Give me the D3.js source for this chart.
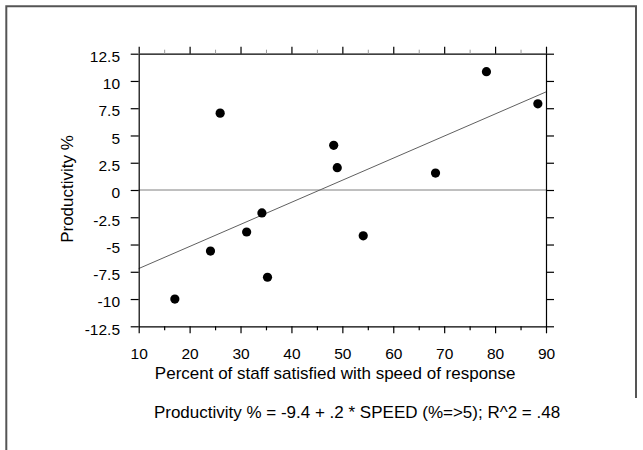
<!DOCTYPE html>
<html>
<head>
<meta charset="utf-8">
<script src="https://cdn.jsdelivr.net/npm/d3@7"></script>
<style>
  html, body { margin: 0; padding: 0; background: #fff; }
  svg { display: block; font-family: "Liberation Sans", Arial, sans-serif; }
</style>
</head>
<body>
<svg id="chart" width="643" height="450"></svg>
<script>
// ---- data ----
const speed = [17.1, 24.1, 26.0, 31.2, 34.2, 35.3, 48.3, 49.0, 54.1, 68.3, 78.3, 88.4];
const productivity = [-10.0, -5.6, 7.05, -3.85, -2.1, -8.0, 4.1, 2.05, -4.2, 1.55, 10.85, 7.9];
const xTicks = [10, 20, 30, 40, 50, 60, 70, 80, 90];
const xTickLabels = ["10", "20", "30", "40", "50", "60", "70", "80", "90"];
const xMinorTicks = [15, 25, 35, 45, 55, 65, 75, 85];
const yTicks = [12.5, 10, 7.5, 5, 2.5, 0, -2.5, -5, -7.5, -10, -12.5];
const yTickLabels = ["12.5", "10", "7.5", "5", "2.5", "0", "-2.5", "-5", "-7.5", "-10", "-12.5"];
const fitIntercept = [-9.23];
const fitSlope = [0.2025];
const xTitle = "Percent of staff satisfied with speed of response";
const yTitle = "Productivity %";
const equation = "Productivity % = -9.4 + .2 * SPEED (%=>5); R^2 = .48";

// ---- layout ----
const svg = d3.select("#chart");
const L = 138.7, R = 546, T = 53.7, B = 326.3;
const x = d3.scaleLinear().domain([10, 90]).range([L, R]);
const y = d3.scaleLinear().domain([-12.5, 12.5]).range([B, T]);

// outer frame (partial)
svg.append("path")
  .attr("d", `M6.3,450 V6.3 H636 V398`)
  .attr("fill", "none").attr("stroke", "#555").attr("stroke-width", 2);

// zero line
svg.append("line")
  .attr("x1", x(10)).attr("x2", x(90))
  .attr("y1", y(0)).attr("y2", y(0))
  .attr("stroke", "#808080").attr("stroke-width", 1);

// regression line
const fx = [10, 90];
svg.append("line")
  .attr("x1", x(fx[0])).attr("y1", y(fitIntercept[0] + fitSlope[0] * fx[0]))
  .attr("x2", x(fx[1])).attr("y2", y(fitIntercept[0] + fitSlope[0] * fx[1]))
  .attr("stroke", "#606060").attr("stroke-width", 1);

// axes
function styleAxis(g) {
  g.selectAll(".domain").attr("stroke", "#000").attr("stroke-width", 1.2);
  g.selectAll(".tick line").attr("stroke", "#000").attr("stroke-width", 1.2);
  g.selectAll("text").attr("fill", "#000").style("font-family", '"Liberation Sans", Arial, sans-serif');
}

const gLeft = svg.append("g").attr("transform", `translate(${L},0)`)
  .call(d3.axisLeft(y).tickValues(yTicks).tickSize(8).tickSizeOuter(0).tickPadding(10.7)
    .tickFormat((d, i) => yTickLabels[i]));
styleAxis(gLeft);
gLeft.selectAll("text").attr("font-size", 15.5).attr("dy", "0.5em");

const gRight = svg.append("g").attr("transform", `translate(${R},0)`)
  .call(d3.axisRight(y).tickValues(yTicks).tickSize(8).tickSizeOuter(0).tickFormat(""));
styleAxis(gRight);

const gBottom = svg.append("g").attr("transform", `translate(0,${B})`)
  .call(d3.axisBottom(x).tickValues(xTicks).tickSize(7).tickSizeOuter(0)
    .tickFormat((d, i) => xTickLabels[i]));
styleAxis(gBottom);
gBottom.selectAll("text").attr("font-size", 15.5).attr("y", 21.2).attr("dy", "0.71em");

const gBottomMinor = svg.append("g").attr("transform", `translate(0,${B})`)
  .call(d3.axisBottom(x).tickValues(xMinorTicks).tickSize(4).tickSizeOuter(0).tickFormat(""));
gBottomMinor.select(".domain").remove();
gBottomMinor.selectAll(".tick line").attr("stroke", "#000").attr("stroke-width", 1.2);

const gTop = svg.append("g").attr("transform", `translate(0,${T})`)
  .call(d3.axisTop(x).tickValues(xTicks).tickSize(7).tickSizeOuter(0).tickFormat(""));
styleAxis(gTop);

const gTopMinor = svg.append("g").attr("transform", `translate(0,${T})`)
  .call(d3.axisTop(x).tickValues(xMinorTicks).tickSize(4).tickSizeOuter(0).tickFormat(""));
gTopMinor.select(".domain").remove();
gTopMinor.selectAll(".tick line").attr("stroke", "#999").attr("stroke-width", 1);

// points
svg.append("g").selectAll("circle")
  .data(speed.map((s, i) => [s, productivity[i]]))
  .join("circle")
  .attr("cx", d => x(d[0])).attr("cy", d => y(d[1]))
  .attr("r", 4.6).attr("fill", "#000");

// titles
svg.append("text")
  .attr("x", 335.2).attr("y", 379)
  .attr("text-anchor", "middle").attr("font-size", 17).attr("fill", "#000")
  .text(xTitle);

svg.append("text")
  .attr("transform", `translate(73,189) rotate(-90)`)
  .attr("text-anchor", "middle").attr("font-size", 17).attr("fill", "#000")
  .text(yTitle);

svg.append("text")
  .attr("x", 357).attr("y", 417.7)
  .attr("text-anchor", "middle").attr("font-size", 17).attr("fill", "#000")
  .text(equation);
</script>
</body>
</html>
